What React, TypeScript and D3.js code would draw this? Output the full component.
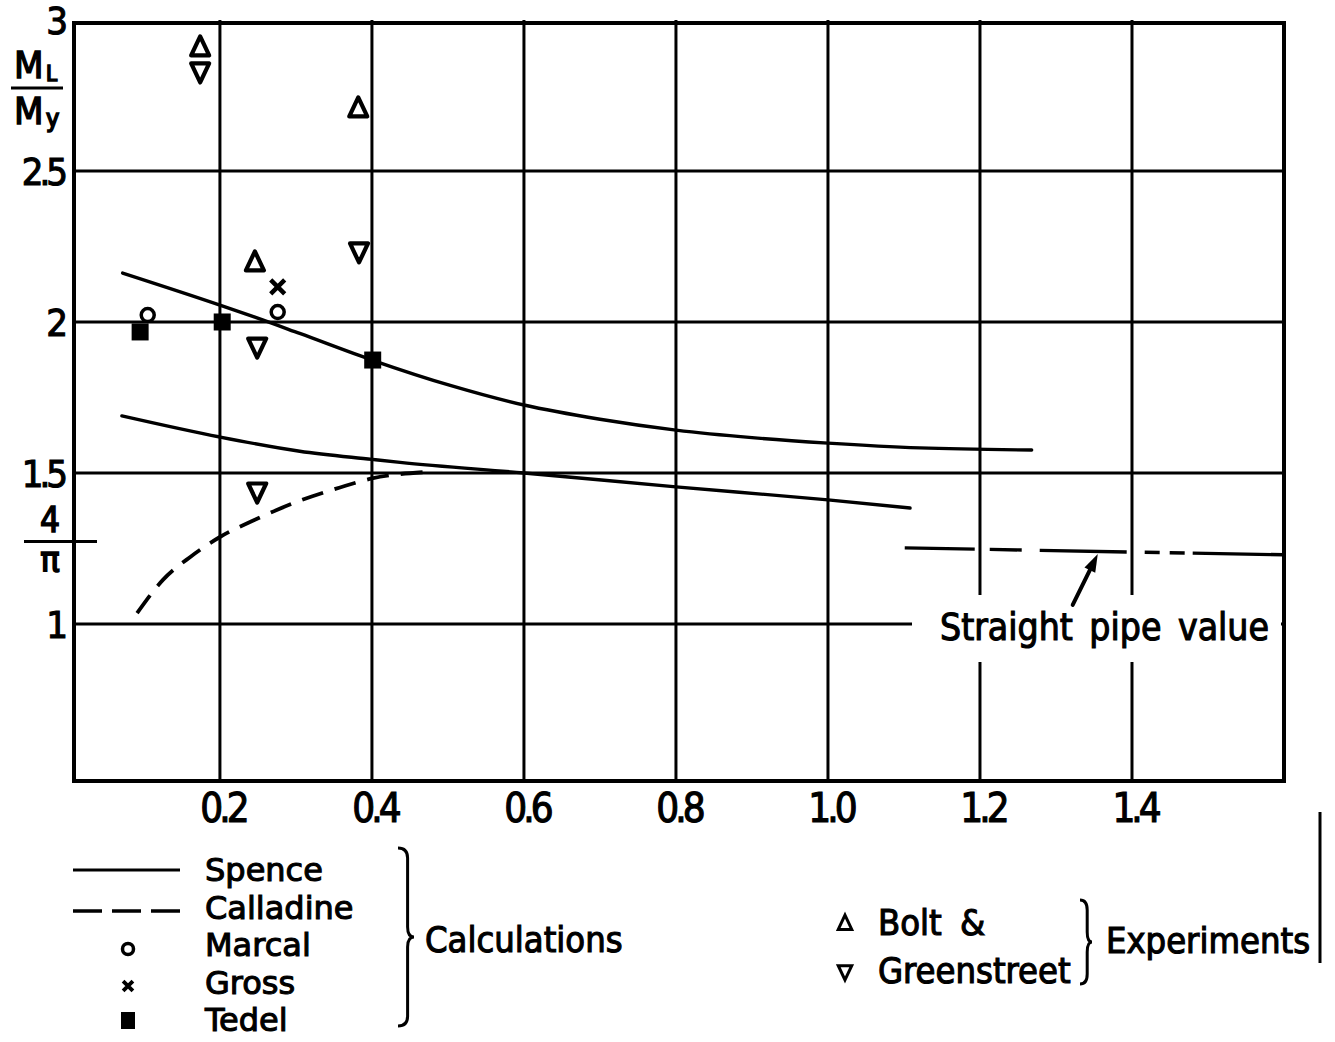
import React from 'react';
import * as d3 from 'd3';

// axis ticks
const xTicks = [0.2, 0.4, 0.6, 0.8, 1.0, 1.2, 1.4];
const xTickLabels = ['0.2', '0.4', '0.6', '0.8', '1.0', '1.2', '1.4'];
const yTicks = [1, 1.5, 2, 2.5, 3];
const yTickLabels = ['1', '1.5', '2', '2.5', '3'];
const yGridLines = [1, 1.5, 2, 2.5];
const fourOverPi = 4 / Math.PI;

// Spence (two solid curves)
const spenceUpperX = [0.072, 0.2, 0.246, 0.305, 0.4, 0.503, 0.6, 0.7, 0.8, 0.9, 1.0, 1.121, 1.268];
const spenceUpperY = [2.162, 2.056, 2.016, 1.962, 1.874, 1.79, 1.725, 1.678, 1.642, 1.617, 1.599, 1.583, 1.576];
const spenceLowerX = [0.071, 0.2, 0.305, 0.4, 0.437, 0.6, 0.8, 1.0, 1.108];
const spenceLowerY = [1.689, 1.619, 1.572, 1.545, 1.535, 1.5, 1.454, 1.411, 1.384];

// Calladine (dashed)
const calladineX = [0.091, 0.125, 0.161, 0.2, 0.246, 0.305, 0.358, 0.4, 0.47];
const calladineY = [1.036, 1.146, 1.222, 1.288, 1.345, 1.408, 1.452, 1.482, 1.503];

// points
const boltUpX = [0.174, 0.382, 0.246];
const boltUpY = [2.911, 2.709, 2.199];
const greenDownX = [0.174, 0.383, 0.249, 0.249];
const greenDownY = [2.828, 2.232, 1.917, 1.437];
const grossX = [0.276];
const grossY = [2.116];
const marcalX = [0.105, 0.276];
const marcalY = [2.023, 2.033];
const tedelX = [0.095, 0.203, 0.401];
const tedelY = [1.967, 2.0, 1.874];

// straight pipe value
const pipeX = [1.101, 1.6];
const pipeY = [1.252, 1.229];
const arrowFrom = [1.322, 1.063];
const arrowTo = [1.355, 1.232];

const calcLabels = ['Spence', 'Calladine', 'Marcal', 'Gross', 'Tedel'];

const FONT = "'DejaVu Sans Condensed', 'DejaVu Sans', sans-serif";
const FONT_N = "'DejaVu Sans', sans-serif";

const W = 1335;
const H = 1042;

const x = d3.scaleLinear().domain([0.008, 1.6]).range([74, 1284]);
const y = d3.scaleLinear().domain([0.48, 3]).range([781, 20]);

const zip = (xs: number[], ys: number[]) => xs.map((v, i) => [v, ys[i]] as [number, number]);

const curve = d3.line<[number, number]>()
  .x(d => x(d[0]))
  .y(d => y(d[1]))
  .curve(d3.curveMonotoneX);

const triUp = 'M0,-10.5 L9,8.5 L-9,8.5 Z';
const triDown = 'M0,10.5 L9,-8.5 L-9,-8.5 Z';
const cross = 'M-7,-7 L7,7 M7,-7 L-7,7';

const txt = { fontFamily: FONT, fontStretch: 'condensed' as const, fill: '#000', stroke: '#000', strokeWidth: 1.1 };
const txtN = { fontFamily: FONT_N, fill: '#000', stroke: '#000', strokeWidth: 1.1 };

// right-facing curly brace
const brace = (bx: number, top: number, bottom: number, w: number) => {
  const mid = (top + bottom) / 2;
  const r = 10;
  return `M${bx},${top} Q${bx + w * 0.6},${top} ${bx + w * 0.6},${top + r}
    L${bx + w * 0.6},${mid - r} Q${bx + w * 0.6},${mid} ${bx + w},${mid}
    Q${bx + w * 0.6},${mid} ${bx + w * 0.6},${mid + r}
    L${bx + w * 0.6},${bottom - r} Q${bx + w * 0.6},${bottom} ${bx},${bottom}`;
};

export default function App() {
  const x0 = x.range()[0];
  const x1 = x.range()[1];
  const yTop = y.range()[1];
  const yBot = y.range()[0];

  return (
    <svg width={W} height={H} viewBox={`0 0 ${W} ${H}`}
      style={{ position: 'absolute', left: 0, top: 0, background: '#fff' }}>
      <rect x={0} y={0} width={W} height={H} fill="#fff" />

      {/* grid */}
      <g stroke="#000" strokeWidth={3}>
        {xTicks.map(t => (
          <line key={'vx' + t} x1={x(t)} x2={x(t)} y1={yTop} y2={yBot} />
        ))}
        {yGridLines.map(t => (
          <line key={'hy' + t} x1={x0} x2={x1} y1={y(t)} y2={y(t)} />
        ))}
      </g>

      {/* frame */}
      <rect x={x0} y={yTop + 3} width={x1 - x0} height={yBot - yTop - 3}
        fill="none" stroke="#000" strokeWidth={4} />

      {/* 4/pi tick */}
      <line x1={24} x2={97} y1={y(fourOverPi)} y2={y(fourOverPi)} stroke="#000" strokeWidth={3} />

      {/* curves */}
      <g fill="none" stroke="#000" strokeWidth={3.4} strokeLinecap="round">
        <path d={curve(zip(spenceUpperX, spenceUpperY)) || ''} />
        <path d={curve(zip(spenceLowerX, spenceLowerY)) || ''} />
        <path d={curve(zip(calladineX, calladineY)) || ''} strokeDasharray="22 12" strokeWidth={3.8} strokeLinecap="butt" />
      </g>

      {/* straight pipe value */}
      <line x1={x(pipeX[0])} x2={x(pipeX[1])} y1={y(pipeY[0])} y2={y(pipeY[1])}
        stroke="#000" strokeWidth={3.4}
        strokeDasharray="70 15 32 18 87 18 15 10 15 8 91" />
      <rect x={912} y={595} width={369} height={67} fill="#fff" />
      {(() => {
        const ax = x(arrowFrom[0]);
        const ay = y(arrowFrom[1]);
        const bx = x(arrowTo[0]);
        const by = y(arrowTo[1]);
        const ang = Math.atan2(by - ay, bx - ax);
        const L = 18;
        const hw = 6;
        const px = bx - L * Math.cos(ang);
        const py = by - L * Math.sin(ang);
        const nx = -Math.sin(ang) * hw;
        const ny = Math.cos(ang) * hw;
        return (
          <g>
            <line x1={ax} y1={ay} x2={px} y2={py} stroke="#000" strokeWidth={4} strokeLinecap="round" />
            <path d={`M${bx},${by} L${px + nx},${py + ny} L${px - nx},${py - ny} Z`} fill="#000" />
          </g>
        );
      })()}
      <text x={940} y={640} fontSize={37} {...txt} wordSpacing={6}>Straight pipe value</text>

      {/* markers */}
      <g fill="none" stroke="#000" strokeWidth={4.2} strokeLinejoin="round">
        {boltUpX.map((v, i) => (
          <path key={'bu' + i} d={triUp} transform={`translate(${x(v)},${y(boltUpY[i])})`} />
        ))}
        {greenDownX.map((v, i) => (
          <path key={'gd' + i} d={triDown} transform={`translate(${x(v)},${y(greenDownY[i])})`} />
        ))}
        {grossX.map((v, i) => (
          <path key={'gr' + i} d={cross} transform={`translate(${x(v)},${y(grossY[i])})`} strokeWidth={4.5} />
        ))}
        {marcalX.map((v, i) => (
          <circle key={'mc' + i} cx={x(v)} cy={y(marcalY[i])} r={6.5} strokeWidth={3.5} />
        ))}
      </g>
      <g fill="#000">
        {tedelX.map((v, i) => (
          <rect key={'td' + i} x={x(v) - 8.5} y={y(tedelY[i]) - 8.5} width={17} height={17} />
        ))}
      </g>

      {/* x tick labels */}
      {xTicks.map((t, i) => (
        <text key={'xl' + t} x={x(t) + 3} y={822} fontSize={40} textAnchor="middle" letterSpacing={-4} {...txt}>
          {xTickLabels[i]}
        </text>
      ))}

      {/* y tick labels */}
      {yTicks.map((t, i) => (
        <text key={'yl' + t} x={64} y={y(t) + 14} fontSize={38} textAnchor="end" letterSpacing={-4} {...txt}>
          {yTickLabels[i]}
        </text>
      ))}

      {/* y axis title M_L / M_y */}
      <text x={14} y={78} fontSize={38} {...txt} strokeWidth={1.4}>M</text>
      <text x={46} y={81} fontSize={22} {...txt} strokeWidth={1.6}>L</text>
      <line x1={11} x2={63} y1={88} y2={88} stroke="#000" strokeWidth={3} />
      <text x={14} y={124} fontSize={38} {...txt} strokeWidth={1.4}>M</text>
      <text x={46} y={127} fontSize={25} {...txt} strokeWidth={1.6}>y</text>

      {/* 4/pi label */}
      <text x={50} y={532} fontSize={35} textAnchor="middle" {...txt} strokeWidth={1.4}>4</text>
      <text x={50} y={572} fontSize={36} textAnchor="middle" {...txt} strokeWidth={1.6}>π</text>

      {/* legend: calculations */}
      <line x1={73} x2={180} y1={870} y2={870} stroke="#000" strokeWidth={3} />
      <line x1={73} x2={180} y1={911} y2={911} stroke="#000" strokeWidth={3.5} strokeDasharray="29 10" />
      <circle cx={128} cy={949} r={5.5} fill="none" stroke="#000" strokeWidth={3.5} />
      <path d={cross} transform="translate(128,986) scale(0.7)" stroke="#000" strokeWidth={5.5} fill="none" />
      <rect x={121} y={1012} width={14} height={17} fill="#000" />
      {calcLabels.map((s, i) => (
        <text key={s} x={205} y={881 + i * 37.5} fontSize={32} {...txtN}>{s}</text>
      ))}
      <path d={brace(398, 848, 1026, 16)} fill="none" stroke="#000" strokeWidth={3} />
      <text x={425} y={952} fontSize={36} {...txt}>Calculations</text>

      {/* legend: experiments */}
      <path d={triUp} transform="translate(845,923) scale(0.75)" fill="none" stroke="#000" strokeWidth={4} />
      <path d={triDown} transform="translate(845,972) scale(0.75)" fill="none" stroke="#000" strokeWidth={4} />
      <text x={878} y={935} fontSize={36} {...txt}>Bolt</text>
      <text x={960} y={935} fontSize={36} {...txt}>&amp;</text>
      <text x={878} y={983} fontSize={36} {...txt}>Greenstreet</text>
      <path d={brace(1080, 900, 984, 12)} fill="none" stroke="#000" strokeWidth={3} />
      <text x={1106} y={953} fontSize={36} {...txt}>Experiments</text>
      <line x1={1320} x2={1320} y1={812} y2={963} stroke="#000" strokeWidth={3} />
    </svg>
  );
}
